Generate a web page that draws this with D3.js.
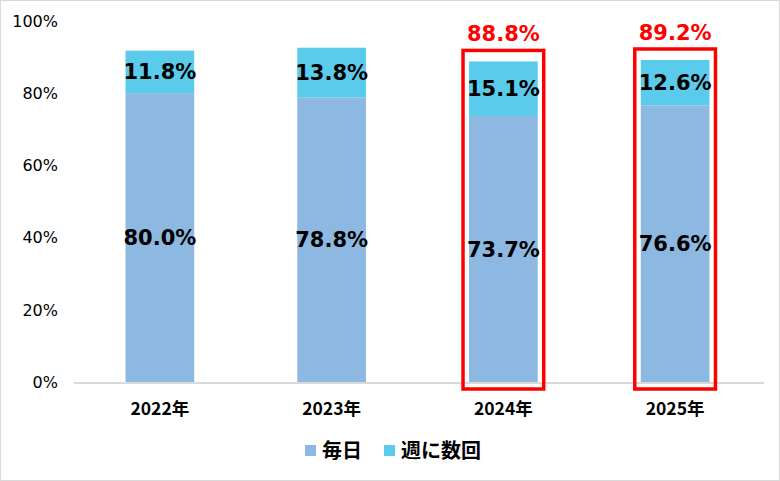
<!DOCTYPE html>
<html><head><meta charset="utf-8">
<script src="https://cdn.jsdelivr.net/npm/d3@7"></script>
<style>body{margin:0;background:#fff}svg{display:block}</style>
</head><body>
<svg id="c" width="780" height="481"></svg>
<script>
const categories = ["2022年","2023年","2024年","2025年"];
const daily = [80.0, 78.8, 73.7, 76.6];
const weekly = [11.8, 13.8, 15.1, 12.6];
const highlighted = ["2024年","2025年"];
const yTicks = [0,20,40,60,80,100];
const seriesNames = ["毎日","週に数回"];
const colors = ["#8db8e1","#5bcbec"];

const svg = d3.select("#c");
svg.append("rect").attr("x",0.5).attr("y",0.5).attr("width",779).attr("height",480)
  .attr("fill","#fff").attr("stroke","#d9d9d9");

const x = d3.scaleBand().domain(categories).range([74,761]).paddingInner(0.6).paddingOuter(0.3);
const y = d3.scaleLinear().domain([0,100]).range([382,21]);

const lat = "'DejaVu Sans', Verdana, sans-serif";
const cjk = "'Noto Sans CJK JP', sans-serif";
// y axis labels
svg.append("g").selectAll("text").data(yTicks).join("text")
  .attr("x",58).attr("y",d=>y(d)).attr("dy","0.36em").attr("text-anchor","end")
  .attr("font-family",lat).attr("font-size",16).attr("fill","#000")
  .text(d=>d+"%");

const rows = categories.map((c,i)=>({cat:c, d:daily[i], w:weekly[i]}));
const stack = d3.stack().keys(["d","w"])(rows);

stack.forEach((s,si)=>{
  svg.append("g").selectAll("rect").data(s).join("rect")
    .attr("x",d=>x(d.data.cat)).attr("width",x.bandwidth())
    .attr("y",d=>y(d[1])).attr("height",d=>y(d[0])-y(d[1]))
    .attr("fill",colors[si]);
  svg.append("g").selectAll("text").data(s).join("text")
    .attr("x",d=>x(d.data.cat)+x.bandwidth()/2).attr("y",d=>(y(d[0])+y(d[1]))/2)
    .attr("dy","0.36em").attr("text-anchor","middle")
    .attr("font-family",lat).attr("font-weight","bold").attr("font-size",21).attr("fill","#000")
    .text(d=>(d[1]-d[0]).toFixed(1)+"%");
});

// axis baseline
svg.append("line").attr("x1",74).attr("x2",764).attr("y1",y(0)+1).attr("y2",y(0)+1)
  .attr("stroke","#d9d9d9").attr("stroke-width",2);

// red boxes
rows.filter(r=>highlighted.includes(r.cat)).forEach(r=>{
  const t = r.d + r.w;
  svg.append("rect").attr("x",x(r.cat)-6).attr("width",x.bandwidth()+12)
    .attr("y",y(t)-11).attr("height",y(0)+7-(y(t)-11))
    .attr("fill","none").attr("stroke","#ff0000").attr("stroke-width",3.5);
  svg.append("text").attr("x",x(r.cat)+x.bandwidth()/2).attr("y",y(t)-28)
    .attr("dy","0.36em").attr("text-anchor","middle")
    .attr("font-family",lat).attr("font-weight","bold").attr("font-size",21).attr("fill","#ff0000")
    .text(t.toFixed(1)+"%");
});

// category labels
svg.append("g").selectAll("text").data(categories).join("text")
  .attr("x",d=>x(d)+x.bandwidth()/2).attr("y",409).attr("dy","0.36em").attr("text-anchor","middle")
  .attr("font-family",cjk).attr("font-weight","bold").attr("font-size",17.5)
  .attr("fill","#000").text(d=>d);

// legend
const lg = svg.append("g");
const legX = [305, 384];
seriesNames.forEach((n,i)=>{
  lg.append("rect").attr("x",legX[i]).attr("y",445).attr("width",11).attr("height",11).attr("fill",colors[i]);
  lg.append("text").attr("x",legX[i]+17).attr("y",451).attr("dy","0.36em")
    .attr("font-family",cjk).attr("font-weight","bold").attr("font-size",20)
    .attr("fill","#000").text(n);
});
</script>
</body></html>
